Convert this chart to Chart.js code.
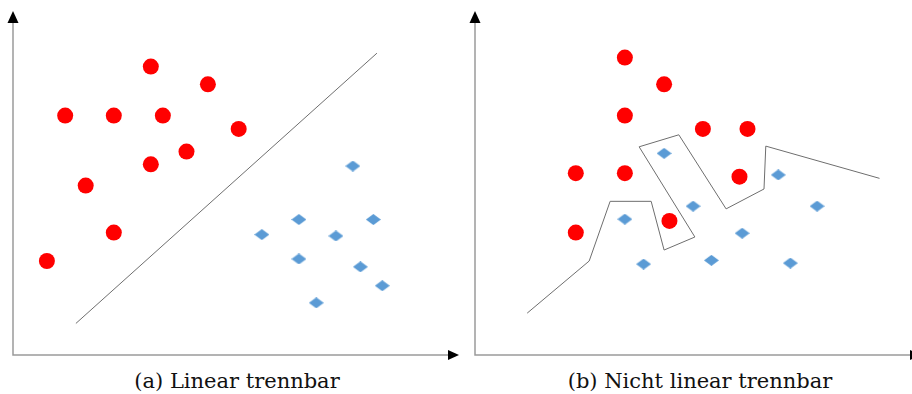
<!DOCTYPE html>
<html>
<head>
<meta charset="utf-8">
<script src="https://cdn.jsdelivr.net/npm/chart.js@4"></script>
<style>
  html, body { margin: 0; padding: 0; background: #ffffff; overflow: hidden; }
  #wrap { position: relative; width: 912px; height: 394px; overflow: hidden; background: #fff; }
  canvas { position: absolute; top: 0; }
  .cap { position: absolute; width: 400px; text-align: center; font-family: "DejaVu Serif", serif;
         font-size: 21px; line-height: 21px; color: #111; white-space: nowrap; }
</style>
</head>
<body>
<div id="wrap">
  <canvas id="cA" width="462" height="362" style="left:0px"></canvas>
  <canvas id="cB" width="462" height="362" style="left:462px"></canvas>
  <div class="cap" style="left:37px; top:371px;">(a) Linear trennbar</div>
  <div class="cap" style="left:500px; top:371px;">(b) Nicht linear trennbar</div>
</div>
<script>
// ---- Panel (a): linear separable ----
const aRedX  = [3.09, 4.37, 1.17, 2.26, 3.36, 5.06, 3.89, 3.09, 1.63, 2.26, 0.76];
const aRedY  = [8.41, 7.89, 6.98, 6.98, 6.98, 6.59, 5.93, 5.56, 4.94, 3.57, 2.74];
const aBlueX = [7.62, 6.41, 8.08, 5.58, 7.24, 6.41, 7.79, 8.28, 6.80];
const aBlueY = [5.51, 3.95, 3.95, 3.51, 3.47, 2.80, 2.57, 2.02, 1.52];
const aLineX = [1.41, 8.16];
const aLineY = [0.92, 8.80];

// ---- Panel (b): not linear separable ----
const bRedX  = [3.36, 4.24, 3.36, 5.11, 6.11, 2.26, 3.36, 5.93, 4.36, 2.26];
const bRedY  = [8.67, 7.89, 6.98, 6.59, 6.59, 5.30, 5.30, 5.20, 3.91, 3.57];
const bBlueX = [4.24, 6.80, 4.89, 7.67, 3.36, 5.99, 5.30, 3.78, 7.07];
const bBlueY = [5.88, 5.25, 4.34, 4.34, 3.96, 3.55, 2.76, 2.65, 2.68];
const bLineX = [1.17, 2.56, 3.03, 3.95, 4.24, 4.93, 3.68, 4.57, 5.63, 6.48, 6.52, 9.07];
const bLineY = [1.22, 2.74, 4.48, 4.48, 3.06, 3.44, 6.07, 6.42, 4.26, 4.84, 6.09, 5.15];

const axisMin = 0, axisMax = 10;

function pts(xs, ys) { return xs.map((x, i) => ({ x: x, y: ys[i] })); }

// diamond marker (wider than tall)
const diamond = document.createElement('canvas');
diamond.width = 15; diamond.height = 11;
(function () {
  const g = diamond.getContext('2d');
  g.fillStyle = '#5b9bd5';
  g.beginPath();
  g.moveTo(7.5, 0); g.lineTo(15, 5.5); g.lineTo(7.5, 11); g.lineTo(0, 5.5);
  g.closePath(); g.fill();
})();

const arrowAxes = {
  id: 'arrowAxes',
  beforeDatasetsDraw(chart) {
    const { ctx, chartArea: a } = chart;
    ctx.save();
    ctx.strokeStyle = '#9a9a9a';
    ctx.lineWidth = 1.5;
    ctx.beginPath();
    ctx.moveTo(a.left, a.top + 8);
    ctx.lineTo(a.left, a.bottom);
    ctx.lineTo(a.right - 8, a.bottom);
    ctx.stroke();
    ctx.fillStyle = '#000';
    ctx.beginPath();
    ctx.moveTo(a.left, a.top - 1);
    ctx.lineTo(a.left + 5.5, a.top + 11);
    ctx.lineTo(a.left - 5.5, a.top + 11);
    ctx.closePath(); ctx.fill();
    ctx.beginPath();
    ctx.moveTo(a.right, a.bottom);
    ctx.lineTo(a.right - 11, a.bottom - 5);
    ctx.lineTo(a.right - 11, a.bottom + 5);
    ctx.closePath(); ctx.fill();
    ctx.restore();
  }
};

function makeChart(id, redX, redY, blueX, blueY, lineX, lineY) {
  return new Chart(document.getElementById(id), {
    type: 'scatter',
    data: {
      datasets: [
        { data: pts(lineX, lineY), showLine: true, borderColor: '#6e6e6e', borderWidth: 1,
          pointRadius: 0, tension: 0, fill: false },
        { data: pts(redX, redY), pointStyle: 'circle', pointRadius: 8,
          backgroundColor: '#ff0000', borderColor: '#ff0000', borderWidth: 0 },
        { data: pts(blueX, blueY), pointStyle: diamond,
          backgroundColor: '#5b9bd5', borderColor: '#5b9bd5' }
      ]
    },
    options: {
      responsive: false,
      animation: false,
      events: [],
      layout: { autoPadding: false, padding: { left: 13, top: 12, right: 3, bottom: 7 } },
      plugins: { legend: { display: false }, tooltip: { enabled: false }, title: { display: false } },
      scales: {
        x: { type: 'linear', min: axisMin, max: axisMax, display: false },
        y: { type: 'linear', min: axisMin, max: axisMax, display: false }
      }
    },
    plugins: [arrowAxes]
  });
}

makeChart('cA', aRedX, aRedY, aBlueX, aBlueY, aLineX, aLineY);
makeChart('cB', bRedX, bRedY, bBlueX, bBlueY, bLineX, bLineY);
</script>
</body>
</html>
